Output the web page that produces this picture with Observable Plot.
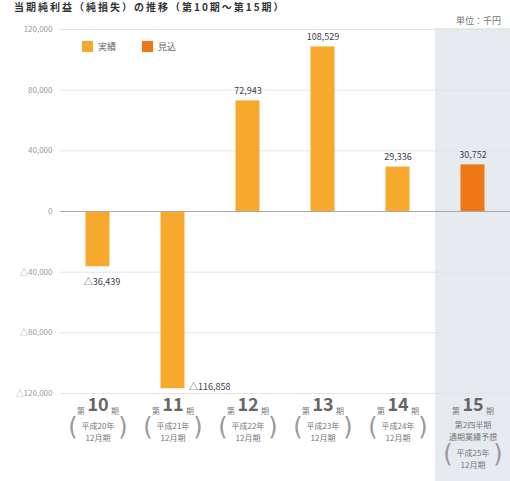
<!DOCTYPE html>
<html><head><meta charset="utf-8">
<script src="https://cdn.jsdelivr.net/npm/d3@7"></script>
<script src="https://cdn.jsdelivr.net/npm/@observablehq/plot@0.6"></script>
<style>
body{margin:0;background:#fff;font-family:"Noto Sans CJK JP","Noto Sans",sans-serif;}
#wrap{position:relative;width:510px;height:481px;overflow:hidden;}
#chart{position:absolute;left:0;top:0;}
#title{position:absolute;left:14px;top:1px;font-size:10px;line-height:12px;letter-spacing:2px;font-weight:bold;color:#333;white-space:nowrap;}
#unit{position:absolute;left:456px;top:14px;font-size:9px;color:#777;white-space:nowrap;}
#legend{position:absolute;left:82px;top:40px;font-size:9px;color:#666;display:flex;align-items:center;}
#legend span.sw{display:inline-block;width:11px;height:11px;margin-right:5px;}
#legend span.it{display:flex;align-items:center;margin-right:26px;}
</style>
</head><body>
<div id="wrap">
  <div id="chart"></div>
  <div id="title">当期純利益（純損失）の推移（第10期〜第15期）</div>
  <div id="unit">単位：千円</div>
  <div id="legend"></div>
</div>
<script>
const periods = ["第10期","第11期","第12期","第13期","第14期","第15期"];
const periodNums = ["10","11","12","13","14","15"];
const values = [-36439, -116858, 72943, 108529, 29336, 30752];
const kinds = ["実績","実績","実績","実績","実績","見込"];
const fiscalYears = ["平成20年","平成21年","平成22年","平成23年","平成24年","平成25年"];
const fiscalMonths = ["12月期","12月期","12月期","12月期","12月期","12月期"];
const forecastNote = ["第2四半期","通期業績予想"];
const yTicks = [-120000, -80000, -40000, 0, 40000, 80000, 120000];
const legendLabels = ["実績","見込"];
const legendColors = ["#f7a92e","#ee7817"];
const unitLabel = "単位：千円";

const fmt = d => d < 0 ? "△" + d3.format(",")(-d) : d3.format(",")(d);
const data = periods.map((p, i) => ({period: p, num: periodNums[i], value: values[i], kind: kinds[i], fy: fiscalYears[i], fm: fiscalMonths[i]}));
const last = periods[periods.length - 1];
const regular = data.filter(d => d.period !== last);
const lastD = data.filter(d => d.period === last);

const txt = {fontFamily: '"Noto Sans CJK JP", sans-serif'};
const paren = {frameAnchor: "bottom", fontSize: 24, fill: "#999", fontFamily: "DejaVu Sans"};

const chart = Plot.plot({
  width: 510, height: 481,
  marginLeft: 60, marginRight: 0, marginTop: 29, marginBottom: 88,
  x: {domain: periods, padding: 0, axis: null},
  y: {domain: [-120000, 120000], axis: null},
  color: {domain: legendLabels, range: legendColors},
  style: {fontFamily: '"Noto Sans CJK JP", sans-serif', background: "transparent"},
  marks: [
    Plot.cell([last], {x: d => d, fill: "#e6ebf0", insetBottom: -90, insetTop: -1}),
    Plot.ruleY(yTicks.filter(d => d !== 0), {stroke: "#e4e4e4", strokeWidth: 1}),
    Plot.axisY(yTicks, {tickFormat: fmt, tickSize: 0, tickPadding: 8, fontSize: 8, fill: "#999", label: null, ...txt}),
    Plot.barY(data, {x: "period", y: "value", fill: "kind", insetLeft: 25.5, insetRight: 25.5}),
    Plot.ruleY([0], {stroke: "#a8a8a8", strokeWidth: 1}),
    // value labels
    Plot.text(data.filter(d => d.value >= 0), {x: "period", y: "value", text: d => fmt(d.value), dy: -10, fontSize: 9, fill: "#3a4050", ...txt}),
    Plot.text(data.filter(d => d.value < 0 && d.value > -100000), {x: "period", y: "value", text: d => fmt(d.value), dy: 15, dx: 4, fontSize: 9, fill: "#3a4050", ...txt}),
    Plot.text(data.filter(d => d.value <= -100000), {x: "period", y: "value", text: d => fmt(d.value), dx: 16, dy: -2, textAnchor: "start", fontSize: 9, fill: "#3a4050", ...txt}),
    // x labels
    Plot.text(data, {x: "period", frameAnchor: "bottom", text: "num", dy: 17, fontSize: 18, fontWeight: "bold", fill: "#666", ...txt}),
    Plot.text(data, {x: "period", frameAnchor: "bottom", text: () => "第", dy: 20, dx: -17, fontSize: 8, fill: "#777", ...txt}),
    Plot.text(data, {x: "period", frameAnchor: "bottom", text: () => "期", dy: 20, dx: 17, fontSize: 8, fill: "#777", ...txt}),
    Plot.text(regular, {x: "period", frameAnchor: "bottom", text: "fy", dy: 35, fontSize: 8, fill: "#777", ...txt}),
    Plot.text(regular, {x: "period", frameAnchor: "bottom", text: "fm", dy: 47, fontSize: 8, fill: "#777", ...txt}),
    Plot.text(regular, {x: "period", text: () => "(", dy: 41, dx: -25, ...paren}),
    Plot.text(regular, {x: "period", text: () => ")", dy: 41, dx: 25, ...paren}),
    // forecast period labels
    Plot.text(lastD, {x: "period", frameAnchor: "bottom", text: () => forecastNote[0], dy: 34, fontSize: 8, fill: "#777", ...txt}),
    Plot.text(lastD, {x: "period", frameAnchor: "bottom", text: () => forecastNote[1], dy: 46, fontSize: 8, fill: "#777", ...txt}),
    Plot.text(lastD, {x: "period", frameAnchor: "bottom", text: "fy", dy: 62, fontSize: 8, fill: "#777", ...txt}),
    Plot.text(lastD, {x: "period", frameAnchor: "bottom", text: "fm", dy: 74, fontSize: 8, fill: "#777", ...txt}),
    Plot.text(lastD, {x: "period", text: () => "(", dy: 68, dx: -25, ...paren}),
    Plot.text(lastD, {x: "period", text: () => ")", dy: 68, dx: 25, ...paren})
  ]
});
document.getElementById("chart").appendChild(chart);

const leg = document.getElementById("legend");
legendLabels.forEach((l, i) => {
  const it = document.createElement("span"); it.className = "it";
  const sw = document.createElement("span"); sw.className = "sw"; sw.style.background = legendColors[i];
  it.appendChild(sw); it.appendChild(document.createTextNode(l));
  leg.appendChild(it);
});
document.getElementById("unit").textContent = unitLabel;
</script>
</body></html>
